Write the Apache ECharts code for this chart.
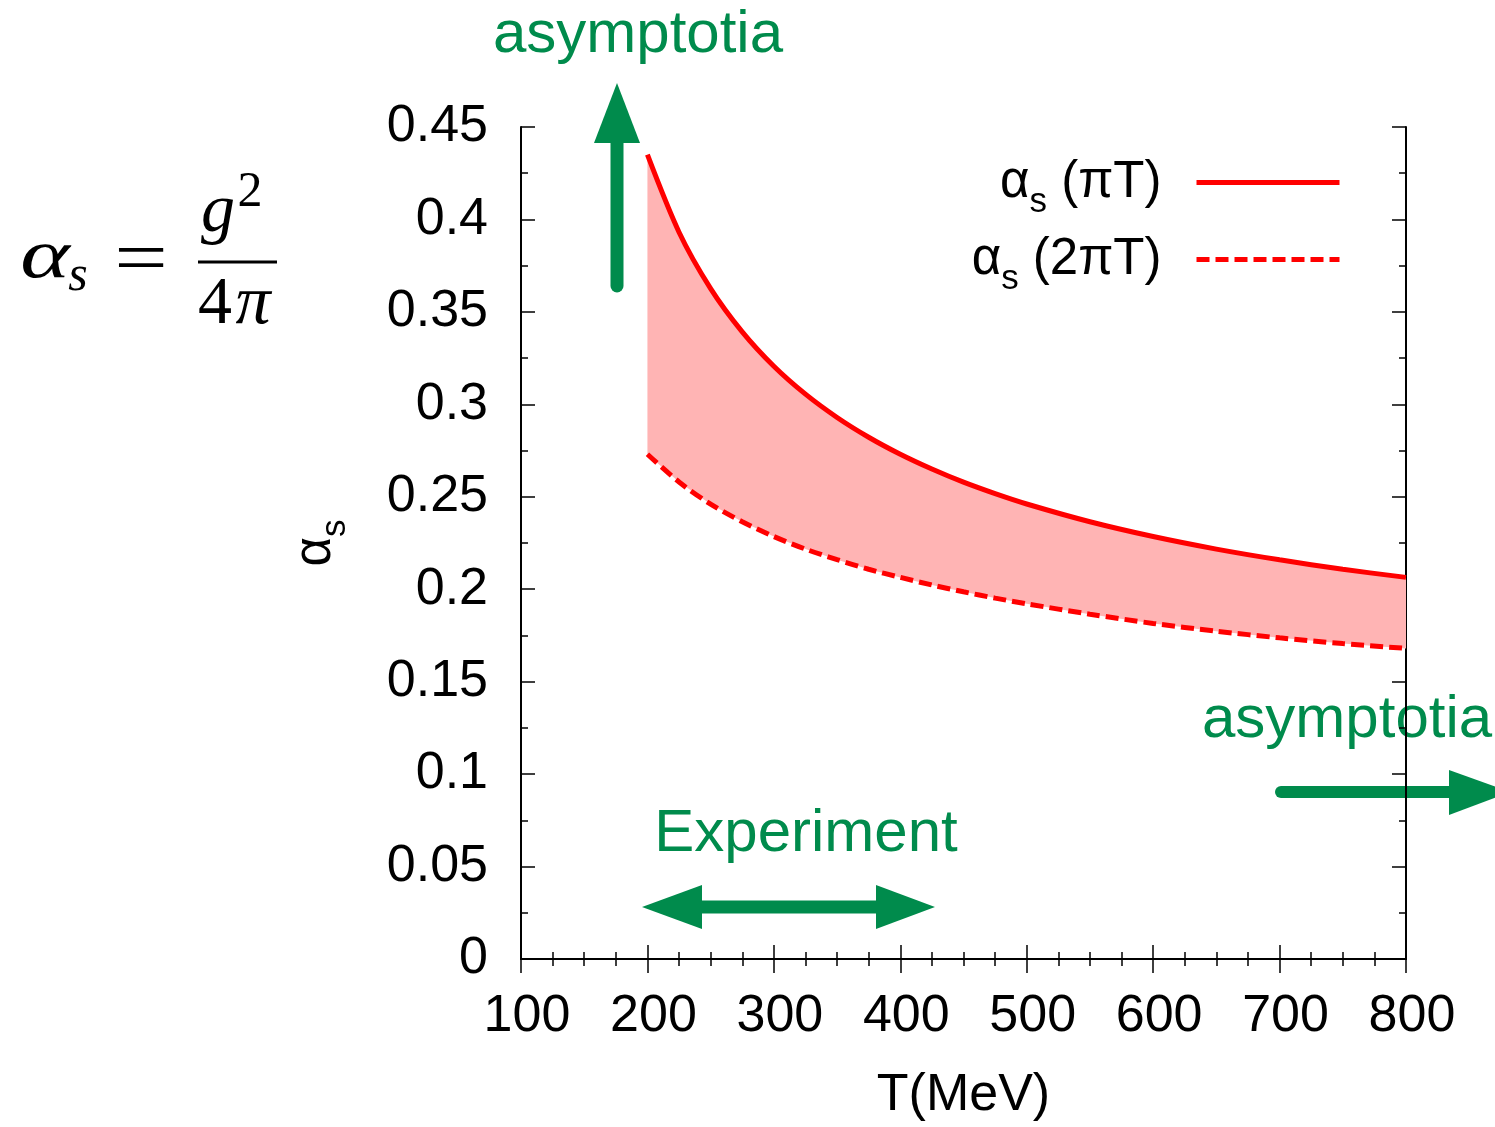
<!DOCTYPE html>
<html>
<head>
<meta charset="utf-8">
<script src="https://cdn.jsdelivr.net/npm/echarts@6/dist/echarts.min.js"></script>
<style>
html,body{margin:0;padding:0;background:#fff;}
#c{width:1495px;height:1127px;}
</style>
</head>
<body>
<div id="c"></div>
<script>
// ---- data ----
var T_MEV = [200, 225, 250, 275, 300, 325, 350, 375, 400, 425, 450, 475, 500, 550, 600, 650, 700, 750, 800];
var ALPHA_PI_T = [0.435, 0.3931, 0.3626, 0.3392, 0.3206, 0.3055, 0.2929, 0.2822, 0.2730, 0.2650, 0.2579, 0.2517, 0.2461, 0.2365, 0.2285, 0.2217, 0.2159, 0.2108, 0.2064];
var ALPHA_2PI_T = [0.273, 0.258, 0.246, 0.2365, 0.2285, 0.2217, 0.2160, 0.2108, 0.2064, 0.2023, 0.1986, 0.1952, 0.1921, 0.1865, 0.1815, 0.1773, 0.1737, 0.1706, 0.1680];
var SERIES_NAMES = ['αs (πT)', 'αs (2πT)'];
var X_TICKS = [100, 200, 300, 400, 500, 600, 700, 800];
var Y_TICKS = [0, 0.05, 0.1, 0.15, 0.2, 0.25, 0.3, 0.35, 0.4, 0.45];

var SANS = '"Liberation Sans", Arial, Helvetica, sans-serif';
var SERIF = '"Liberation Serif", "DejaVu Serif", serif';
var GREEN = '#008B4C';
var RED = '#ff0000';

function pairs(xs, ys) { return xs.map(function (x, i) { return [x, ys[i]]; }); }
var upper = pairs(T_MEV, ALPHA_PI_T);
var lower = pairs(T_MEV, ALPHA_2PI_T);

var chart = echarts.init(document.getElementById('c'), null, {renderer: 'canvas'});

var axisLine = {show: true, lineStyle: {color: '#000', width: 2}};
var tick = {show: true, inside: true, length: 14, lineStyle: {color: '#000', width: 1.5}};
var minor = {show: true, length: 7, lineStyle: {color: '#000', width: 1.5}};

var subRich = {
  a: {fontFamily: SANS, fontSize: 51, lineHeight: 51, color: '#000'},
  s: {fontFamily: SANS, fontSize: 35, lineHeight: 35, color: '#000', padding: [40, 0, 0, 0]},
  t: {fontFamily: SANS, fontSize: 51, lineHeight: 51, color: '#000'}
};

var option = {
  backgroundColor: '#fff',
  animation: false,
  grid: {left: 521, right: 89, top: 127, bottom: 167, containLabel: false},
  xAxis: [{
    type: 'value', min: 100, max: 800, interval: 100, position: 'bottom',
    axisLine: axisLine, axisTick: tick, minorTick: Object.assign({splitNumber: 4}, minor),
    splitLine: {show: false},
    axisLabel: {fontFamily: SANS, fontSize: 52, color: '#000', margin: 32, padding: [0, 0, 0, 12],
      formatter: function (v) { return X_TICKS.indexOf(v) >= 0 ? String(v) : ''; }},
    name: 'T(MeV)', nameLocation: 'middle', nameGap: 111,
    nameTextStyle: {fontFamily: SANS, fontSize: 52, color: '#000'}
  }, {
    type: 'value', min: 100, max: 800, interval: 100, position: 'top',
    axisLine: axisLine, axisTick: tick, minorTick: Object.assign({splitNumber: 4}, minor),
    splitLine: {show: false}, axisLabel: {show: false}
  }],
  yAxis: [{
    type: 'value', min: 0, max: 0.45, interval: 0.05, position: 'left',
    axisLine: axisLine, axisTick: tick, minorTick: Object.assign({splitNumber: 2}, minor),
    splitLine: {show: false},
    axisLabel: {fontFamily: SANS, fontSize: 52, color: '#000', margin: 33,
      formatter: function (v) {
        var r = Math.round(v * 100) / 100;
        for (var i = 0; i < Y_TICKS.length; i++) if (Math.abs(Y_TICKS[i] - r) < 1e-9) return String(Y_TICKS[i]);
        return '';
      }},
    name: '{a|α}{s|s}', nameLocation: 'middle', nameRotate: 90, nameGap: 180,
    nameTextStyle: {rich: subRich}
  }, {
    type: 'value', min: 0, max: 0.45, interval: 0.05, position: 'right',
    axisLine: axisLine, axisTick: tick, minorTick: Object.assign({splitNumber: 2}, minor),
    splitLine: {show: false}, axisLabel: {show: false}
  }],
  legend: {
    orient: 'vertical', right: 148, top: 140, align: 'right',
    itemWidth: 143, itemHeight: 24, itemGap: 2,
    data: SERIES_NAMES,
    itemStyle: {opacity: 0},
    lineStyle: {width: 5},
    formatter: function (name) {
      return '{a|α}{s|s}{t|' + name.slice(2) + '}';
    },
    textStyle: {padding: [0, 30, 0, 0], rich: subRich}
  },
  series: [{
    type: 'custom', name: 'band', xAxisIndex: 0, yAxisIndex: 0, silent: true, z: 1,
    data: [0],
    renderItem: function (params, api) {
      var pts = upper.map(function (p) { return api.coord(p); });
      var lo = lower.map(function (p) { return api.coord(p); }).reverse();
      return {type: 'polygon', shape: {points: pts.concat(lo)}, style: {fill: '#ffb4b4', stroke: null}};
    }
  }, {
    type: 'line', name: SERIES_NAMES[0], data: upper, symbol: 'none', showSymbol: false, smooth: 0.3, z: 3,
    lineStyle: {color: RED, width: 5}, itemStyle: {color: RED}
  }, {
    type: 'line', name: SERIES_NAMES[1], data: lower, symbol: 'none', showSymbol: false, smooth: 0.3, z: 3,
    lineStyle: {color: RED, width: 5, type: [13, 6]}, itemStyle: {color: RED}
  }],
  graphic: [
    // formula
    {type: 'text', x: 45, y: 259, scaleX: 1.35, style: {text: 'α', font: 'italic 70px ' + SERIF, fill: '#000', textAlign: 'center', textVerticalAlign: 'middle'}},
    {type: 'text', x: 78, y: 277, style: {text: 's', font: 'italic 50px ' + SERIF, fill: '#000', textAlign: 'center', textVerticalAlign: 'middle'}},
    {type: 'text', x: 141, y: 263, scaleX: 1.25, style: {text: '=', font: '76px ' + SERIF, fill: '#000', textAlign: 'center', textVerticalAlign: 'middle'}},
    {type: 'line', shape: {x1: 198, y1: 262, x2: 277, y2: 262}, style: {stroke: '#000', lineWidth: 3}},
    {type: 'text', x: 218, y: 213, style: {text: 'g', font: 'italic 68px ' + SERIF, fill: '#000', textAlign: 'center', textVerticalAlign: 'middle'}},
    {type: 'text', x: 250, y: 193, style: {text: '2', font: '50px ' + SERIF, fill: '#000', textAlign: 'center', textVerticalAlign: 'middle'}},
    {type: 'text', x: 215, y: 305, style: {text: '4', font: '68px ' + SERIF, fill: '#000', textAlign: 'center', textVerticalAlign: 'middle'}},
    {type: 'text', x: 253, y: 305, style: {text: 'π', font: 'italic 70px ' + SERIF, fill: '#000', textAlign: 'center', textVerticalAlign: 'middle'}},
    // green annotations
    {type: 'text', x: 638, y: 35, style: {text: 'asymptotia', font: '60px ' + SANS, fill: GREEN, textAlign: 'center', textVerticalAlign: 'middle'}},
    {type: 'text', x: 1202, y: 720, style: {text: 'asymptotia', font: '60px ' + SANS, fill: GREEN, textAlign: 'left', textVerticalAlign: 'middle'}},
    {type: 'text', x: 806, y: 834, style: {text: 'Experiment', font: '60px ' + SANS, fill: GREEN, textAlign: 'center', textVerticalAlign: 'middle'}},
    // up arrow
    {type: 'line', shape: {x1: 617, y1: 286, x2: 617, y2: 140}, style: {stroke: GREEN, lineWidth: 13, lineCap: 'round'}},
    {type: 'polygon', shape: {points: [[617, 83], [594, 143], [640, 143]]}, style: {fill: GREEN}},
    // right arrow
    {type: 'line', shape: {x1: 1281, y1: 792, x2: 1452, y2: 792}, style: {stroke: GREEN, lineWidth: 12, lineCap: 'round'}},
    {type: 'polygon', shape: {points: [[1510, 792], [1449, 770], [1449, 815]]}, style: {fill: GREEN}},
    // double arrow
    {type: 'line', shape: {x1: 700, y1: 907, x2: 878, y2: 907}, style: {stroke: GREEN, lineWidth: 13}},
    {type: 'polygon', shape: {points: [[642, 907], [702, 885], [702, 929]]}, style: {fill: GREEN}},
    {type: 'polygon', shape: {points: [[935, 907], [876, 885], [876, 929]]}, style: {fill: GREEN}}
  ]
};
chart.setOption(option);
</script>
</body>
</html>
